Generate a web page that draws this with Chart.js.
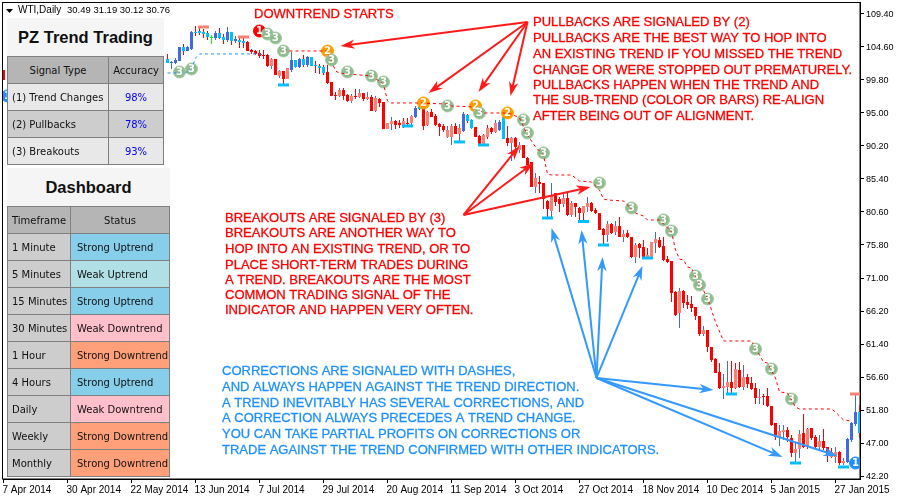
<!DOCTYPE html>
<html>
<head>
<meta charset="utf-8">
<script src="https://cdn.jsdelivr.net/npm/chart.js@4/dist/chart.umd.js"></script>
<style>
  body { margin: 0; background: #fff; }
  #wrap { position: relative; width: 900px; height: 500px; overflow: hidden; }
  #chart { position: absolute; left: 0; top: 0; }
  .title { position: absolute; background: #f5f5f5; text-align: center; font: bold 16.5px "Liberation Sans"; color: #111; }
  table { position: absolute; border-collapse: collapse; table-layout: fixed; font: 10px "DejaVu Sans"; color: #111; }
  td { border: 1px solid #808080; height: 26px; padding: 1px 0 0 4px; box-sizing: border-box; white-space: nowrap; overflow: hidden; }
  tr { height: 27px; }
  td.mid { text-align: center; padding: 1px 0 0 0; }
  tr.head td { background: #b5b5b5; }
</style>
</head>
<body>
<div id="wrap">
  <canvas id="chart" width="900" height="500"></canvas>
  <div class="title" style="left:7px;top:18px;width:157px;height:38px;line-height:38px">PZ Trend Trading</div>
  <table id="signalTable" style="left:7px;top:56px;width:156px"></table>
  <div class="title" style="left:7px;top:168px;width:163px;height:38px;line-height:38px">Dashboard</div>
  <table id="dashTable" style="left:7px;top:206px;width:162px"></table>
</div>
<script>
// bar 0 sits at the left edge, the rest start at bar 41 (bars between are behind the panels)
const opens = [101.26,
  102.86,102.28,102.28,102.57,104.60,104.02,104.31,106.79,106.93,106.79,
  106.64,106.06,105.91,106.64,106.06,105.62,106.79,105.48,105.62,105.48,
  105.33,104.17,104.02,103.73,103.44,103.44,101.84,102.86,100.39,101.11,
  99.95,101.26,102.71,101.69,102.86,101.99,103.15,101.99,101.84,101.69,
  100.97,99.51,97.62,97.48,98.35,97.62,96.75,97.48,97.33,97.91,
  97.04,97.33,95.29,97.04,96.60,92.68,93.40,93.84,93.55,93.26,
  93.55,93.55,94.42,95.88,95.73,93.26,95.15,94.57,93.40,93.11,
  91.51,91.51,93.11,91.95,92.39,94.71,93.99,92.97,91.66,90.49,
  91.51,92.82,92.24,92.53,94.42,91.37,90.64,91.37,89.62,90.35,
  88.45,87.87,84.24,84.96,84.82,82.20,80.75,83.36,82.49,81.76,
  82.64,80.16,81.91,81.18,80.45,81.33,81.91,80.89,80.45,78.13,
  77.25,78.85,77.69,78.56,76.96,77.55,76.96,74.05,75.95,75.51,
  74.05,74.05,76.09,76.53,75.65,73.76,73.47,68.96,65.91,69.11,
  67.51,67.22,66.78,65.47,62.85,63.44,60.96,59.22,57.33,55.00,
  55.15,55.87,55.00,57.62,55.15,56.60,55.73,55.00,53.55,53.84,
  53.84,52.38,49.91,47.87,48.60,48.89,47.73,45.55,46.13,48.45,
  46.42,49.18,47.87,46.42,47.29,46.42,44.96,44.96,45.69,44.09,
  44.24,47.44,49.76,51.51];
const closes = [99.80,
  102.28,102.42,102.71,104.60,104.02,104.60,106.79,106.64,106.64,106.49,
  106.06,105.91,106.64,105.91,105.62,106.79,105.48,105.77,105.33,105.19,
  104.02,103.88,103.59,103.29,103.29,101.84,102.86,100.53,101.11,99.95,
  101.55,102.71,101.69,102.86,101.99,103.15,101.84,101.84,101.55,100.82,
  99.37,97.48,97.48,98.35,97.48,96.75,97.48,97.33,97.91,97.04,
  97.33,95.29,97.19,96.46,92.68,93.55,93.84,93.26,93.26,93.84,
  93.40,94.57,95.73,95.59,93.11,95.15,94.42,93.26,92.97,92.53,
  92.53,93.11,91.95,92.82,94.86,93.84,92.82,91.51,90.49,91.80,
  92.82,92.24,93.55,93.69,91.22,90.64,91.37,90.06,90.35,88.45,
  87.44,84.24,85.55,84.67,82.49,81.04,82.93,82.06,81.76,82.64,
  80.16,81.91,81.33,80.45,81.47,81.91,80.75,80.45,77.98,77.25,
  78.85,77.55,78.56,76.96,77.40,76.96,74.05,75.80,75.36,74.05,
  74.35,76.24,76.67,75.51,73.62,73.33,68.82,65.62,69.11,67.36,
  67.07,66.64,65.47,62.85,63.44,60.96,59.07,57.18,55.00,55.29,
  55.87,55.00,57.76,55.15,56.60,55.58,54.85,53.55,53.69,53.69,
  52.38,49.62,47.87,48.75,48.89,47.87,45.55,46.13,48.31,46.42,
  49.04,47.73,46.42,47.29,46.27,45.25,45.69,45.69,44.09,44.38,
  47.58,49.91,51.51,48.45];
const highs = [101.26,
  103.59,102.57,103.00,104.60,105.04,104.75,106.93,107.66,107.51,107.22,
  106.93,106.35,106.93,107.37,106.49,107.51,106.79,106.20,106.20,106.06,
  105.48,104.31,104.17,104.17,104.17,103.59,103.00,102.86,101.26,101.11,
  101.55,103.88,102.71,103.00,103.44,103.29,103.15,102.57,102.13,101.99,
  101.99,99.51,98.06,98.64,98.64,97.77,97.77,98.49,98.49,97.91,
  98.06,97.62,97.48,97.19,96.60,93.55,94.42,93.99,93.99,94.28,
  94.28,94.71,96.02,96.02,95.73,95.29,95.59,94.86,93.55,93.40,
  93.11,93.40,93.55,93.40,95.15,94.86,94.13,92.97,91.80,91.95,
  93.26,92.97,93.99,93.99,94.42,93.11,91.51,91.51,90.79,90.35,
  88.60,87.87,86.27,85.84,84.82,82.35,84.82,83.36,82.78,83.36,
  83.36,82.20,81.91,81.33,81.47,82.78,82.06,81.18,80.45,78.27,
  79.29,79.00,79.29,79.87,77.98,77.98,76.96,76.09,76.09,76.53,
  75.36,76.24,77.69,76.96,76.96,74.20,73.47,69.11,69.55,69.25,
  68.53,68.38,66.78,65.47,64.02,63.44,60.96,59.36,58.64,57.04,
  58.93,58.93,58.64,58.78,58.35,57.04,56.60,55.73,54.85,54.13,
  55.00,52.38,49.91,49.62,49.62,49.33,48.16,47.00,48.89,51.22,
  49.18,49.18,48.16,48.16,49.04,46.42,46.27,46.42,45.84,44.82,
  47.73,50.05,54.13,52.53];
const lows = [99.80,
  102.28,101.40,102.13,102.57,103.44,104.02,104.17,106.20,106.35,105.91,
  105.62,105.04,105.62,105.77,105.04,105.33,104.89,105.19,104.46,104.46,
  104.02,103.59,103.44,103.00,102.86,101.69,101.40,100.53,100.09,98.93,
  99.95,100.97,101.55,101.55,101.69,101.69,101.84,100.82,100.68,100.53,
  99.22,97.48,96.89,97.33,96.89,96.60,96.46,97.04,97.19,96.75,
  96.89,95.29,95.15,95.88,92.68,92.68,92.53,92.68,92.82,92.82,
  93.11,93.26,94.28,95.44,92.53,93.11,94.42,93.11,91.66,92.24,
  91.37,90.35,91.95,90.79,92.24,93.55,92.68,91.51,90.20,90.20,
  91.22,91.95,92.09,92.39,91.22,90.20,88.02,89.33,89.19,88.45,
  87.44,84.24,83.36,83.36,81.04,79.73,79.73,81.47,80.60,81.33,
  80.02,79.87,79.87,79.29,79.29,80.60,80.60,80.31,77.98,75.80,
  76.24,77.40,77.25,76.96,76.24,76.82,73.91,73.18,73.91,73.91,
  73.91,73.91,74.64,75.36,73.47,73.18,67.51,65.47,63.73,66.64,
  66.49,66.05,64.89,62.56,62.56,60.24,58.78,57.18,54.85,53.40,
  54.27,54.13,54.85,55.00,54.71,55.00,54.71,52.67,52.67,52.53,
  52.24,49.47,47.44,46.56,47.44,47.15,44.96,44.24,44.82,46.27,
  46.13,47.44,46.27,45.98,45.98,44.24,44.82,44.09,43.80,43.80,
  44.09,47.15,49.47,47.73];
const bodyKinds = ("r" + "cbbbcbbccc" + "cgbccbcbcc" + "rrrrrrsrsr" + "sbcbcbcccc" + "rrrsrrsrsr" + "srsrrssrrs"
  + "rsbcrsrrrr" + "ssrsbccrrs" + "srsbcrsrsr" + "rrsrrrsrrs" + "rsrrssrrrr" + "srsrsrrsrr" + "sssrrrrrsr"
  + "rrrrsrrrrs" + "srsrsrrrsr" + "rrrssrrssr" + "srrsrrssrs" + "bbbc").split("");
const wickKinds = ("r" + "rbbbrbbrrr" + "rgbrrbrbrr" + "rrrrrrbrbr" + "rbcbrbcrrr" + "rrrbrrbrbr" + "brbrrrbrrr"
  + "rbbrrrrrrr" + "bbrbbrcrrr" + "rrbbcrbrbr" + "rrbrrrbrrb" + "rbrrrbrrrr" + "brbrbrrbrr" + "rrbrrrrrbr"
  + "rrrrbrrrrb" + "brrrbrrrbr" + "rrrbbrrbbr" + "rrrbrrrbrb" + "bbbr").split("");

const kindColors = { r: "#ff0000", s: "#fa8072", b: "#4169e1", c: "#00bfff", g: "#00ff00" };

// stop lines
const upStopBars = [41, 44, 46, 47, 48, 49, 64, 65];
const upStopPrices = [100.82, 100.82, 100.97, 101.40, 103.00, 103.59, 103.59, 103.44];
const downStopBars = [70, 81, 83, 84, 86, 92, 95, 96, 97, 103, 111, 112, 118, 120, 125, 127, 129, 131, 133, 135, 136, 137, 142, 144, 147, 149, 150, 151, 155, 158, 160, 161, 164, 167, 168, 169, 170, 171, 172, 173, 176, 178, 180, 187, 188, 190, 191, 193, 194, 196, 198, 199, 207, 208, 210, 212];
const downStopPrices = [104.02, 104.02, 101.11, 100.82, 100.68, 100.39, 99.22, 96.75, 96.46, 96.46, 96.31, 96.02, 95.88, 95.00, 95.00, 94.86, 94.28, 91.80, 90.06, 88.89, 86.13, 85.98, 85.98, 85.11, 84.96, 83.80, 82.49, 82.35, 82.20, 80.45, 80.02, 79.44, 79.44, 77.69, 75.08, 73.76, 73.62, 72.60, 72.46, 71.29, 68.09, 64.60, 61.84, 61.84, 60.82, 58.78, 58.64, 56.45, 54.42, 54.27, 52.24, 51.95, 51.95, 51.51, 50.35, 50.20];

// correction dashes
const lowDashBars = [70, 101, 114, 120, 136, 145, 150, 161, 182, 198, 210];
const lowDashPrices = [99.08, 93.11, 90.79, 90.35, 79.73, 79.22, 75.80, 73.91, 54.13, 44.09, 43.51];
const highDashBars = [50, 60, 213];
const highDashPrices = [107.51, 106.06, 54.13];

// numbered signals
const breakoutBars = [44, 47, 66, 68, 70, 82, 86, 92, 95, 111, 119, 130, 131, 135, 149, 157, 165, 167, 173, 174, 176, 188, 192, 197];
const breakoutPrices = [100.97, 101.40, 106.49, 105.91, 104.02, 102.71, 100.97, 100.39, 99.51, 96.02, 95.00, 93.99, 92.09, 89.19, 84.82, 81.18, 79.44, 77.84, 71.29, 69.98, 67.95, 60.67, 57.76, 53.40];
const pullbackBars = [81, 105, 118, 126];
const pullbackPrices = [104.02, 96.46, 96.02, 95.00];
const changeDownBars = [64];
const changeDownPrices = [106.93];
const changeUpBars = [1, 213];
const changeUpPrices = [97.48, 44.09];

const priceTicks = [109.40, 104.60, 99.80, 95.00, 90.20, 85.40, 80.60, 75.80, 71.00, 66.20, 61.40, 56.60, 51.80, 47.00, 42.20];
const dateTickBars = [0, 16, 32, 48, 64, 80, 96, 112, 128, 144, 160, 176, 192, 208];
const dateTickLabels = ["7 Apr 2014", "30 Apr 2014", "22 May 2014", "13 Jun 2014", "7 Jul 2014", "29 Jul 2014", "20 Aug 2014", "11 Sep 2014", "3 Oct 2014", "27 Oct 2014", "18 Nov 2014", "10 Dec 2014", "5 Jan 2015", "27 Jan 2015"];

// arrows, in bar / price
const redArrows = [
  [131, 108.24, 84.25, 104.75], [131, 108.24, 106.25, 97.91], [131, 108.24, 118.75, 98.06], [131, 108.24, 126.75, 97.48],
  [115, 80.17, 129, 90.20], [115, 80.17, 132.5, 87.73], [115, 80.17, 146.75, 84.24]
];
const blueArrows = [
  [148.25, 56.46, 137, 78.28], [148.25, 56.46, 144.5, 77.99], [148.25, 56.46, 149.75, 74.06], [148.25, 56.46, 159.75, 72.75],
  [148.25, 56.46, 177.5, 54.71], [148.25, 56.46, 194.75, 44.97], [148.25, 56.46, 208.5, 45.11]
];

const notes = [
  { color: "#ff0000", x: 254, ys: [14], lines: ["DOWNTREND STARTS"] },
  { color: "#ff0000", x: 533, ys: [22, 38, 54, 70, 85, 100, 116], lines: [
    "PULLBACKS ARE SIGNALED BY (2)",
    "PULLBACKS ARE THE BEST WAY TO HOP INTO",
    "AN EXISTING TREND IF YOU MISSED THE TREND",
    "CHANGE OR WERE STOPPED OUT PREMATURELY.",
    "PULLBACKS HAPPEN WHEN THE TREND AND",
    "THE SUB-TREND (COLOR OR BARS) RE-ALIGN",
    "AFTER BEING OUT OF ALIGNMENT."] },
  { color: "#ff0000", x: 225, ys: [218, 233, 249, 265, 280, 295, 310], lines: [
    "BREAKOUTS ARE SIGNALED BY (3)",
    "BREAKOUTS ARE ANOTHER WAY TO",
    "HOP INTO AN EXISTING TREND, OR TO",
    "PLACE SHORT-TERM TRADES DURING",
    "A TREND. BREAKOUTS ARE THE MOST",
    "COMMON TRADING SIGNAL OF THE",
    "INDICATOR AND HAPPEN VERY OFTEN."] },
  { color: "#1e90ff", x: 222, ys: [371, 387, 403, 418, 434, 450], lines: [
    "CORRECTIONS ARE SIGNALED WITH DASHES,",
    "AND ALWAYS HAPPEN AGAINST THE TREND DIRECTION.",
    "A TREND INEVITABLY HAS SEVERAL CORRECTIONS, AND",
    "A CORRECTION ALWAYS PRECEDES A TREND CHANGE.",
    "YOU CAN TAKE PARTIAL PROFITS ON CORRECTIONS OR",
    "TRADE AGAINST THE TREND CONFIRMED WITH OTHER INDICATORS."] }
];

const signalHeader = ["Signal Type", "Accuracy"];
const signalNames = ["(1) Trend Changes", "(2) Pullbacks", "(3) Breakouts"];
const signalAccuracy = ["98%", "78%", "93%"];
const dashHeader = ["Timeframe", "Status"];
const timeframes = ["1 Minute", "5 Minutes", "15 Minutes", "30 Minutes", "1 Hour", "4 Hours", "Daily", "Weekly", "Monthly"];
const statuses = ["Strong Uptrend", "Weak Uptrend", "Strong Uptrend", "Weak Downtrend", "Strong Downtrend", "Strong Uptrend", "Weak Downtrend", "Strong Downtrend", "Strong Downtrend"];
const statusColors = { "Strong Uptrend": "#87ceeb", "Weak Uptrend": "#b0e0e6", "Weak Downtrend": "#ffc0cb", "Strong Downtrend": "#ffa07a" };

function barOf(n) { return n === 0 ? 0 : 40 + n; }
function points(bars, prices) { return bars.map((b, i) => ({ x: b, y: prices[i] })); }

function buildTables() {
  var html = '<col style="width:101px"><col style="width:55px">';
  html += '<tr class="head"><td class="mid">' + signalHeader[0] + '</td><td class="mid">' + signalHeader[1] + '</td></tr>';
  signalNames.forEach((name, i) => {
    var bg = i % 2 ? "#cdcdcd" : "#e8e8e8";
    html += '<tr style="background:' + bg + '"><td>' + name + '</td><td class="mid" style="color:#0000ff">' + signalAccuracy[i] + '</td></tr>';
  });
  document.getElementById("signalTable").innerHTML = html;

  html = '<col style="width:63px"><col style="width:99px">';
  html += '<tr class="head"><td class="mid">' + dashHeader[0] + '</td><td class="mid">' + dashHeader[1] + '</td></tr>';
  timeframes.forEach((name, i) => {
    html += '<tr><td style="background:#cdcdcd">' + name + '</td><td style="background:' + statusColors[statuses[i]] + ';padding-left:6px">' + statuses[i] + '</td></tr>';
  });
  document.getElementById("dashTable").innerHTML = html;
}
buildTables();

function drawArrow(ctx, x0, y0, x1, y1, color) {
  var a = Math.atan2(y1 - y0, x1 - x0);
  ctx.strokeStyle = color;
  ctx.fillStyle = color;
  ctx.lineWidth = 2;
  ctx.beginPath();
  ctx.moveTo(x0, y0);
  ctx.lineTo(x1 - 8 * Math.cos(a), y1 - 8 * Math.sin(a));
  ctx.stroke();
  ctx.beginPath();
  ctx.moveTo(x1, y1);
  ctx.lineTo(x1 - 15 * Math.cos(a - 0.32), y1 - 15 * Math.sin(a - 0.32));
  ctx.lineTo(x1 - 10 * Math.cos(a), y1 - 10 * Math.sin(a));
  ctx.lineTo(x1 - 15 * Math.cos(a + 0.32), y1 - 15 * Math.sin(a + 0.32));
  ctx.closePath();
  ctx.fill();
}

const framePlugin = {
  id: "frame",
  beforeDraw(chart) {
    var ctx = chart.ctx, area = chart.chartArea;
    ctx.save();
    ctx.fillStyle = "#fff";
    ctx.fillRect(0, 0, chart.width, chart.height);
    ctx.strokeStyle = "#000";
    ctx.lineWidth = 1;
    ctx.strokeRect(2.5, 2.5, area.right - 2.5, area.bottom - 2.5);
    ctx.restore();
  }
};

const digitsPlugin = {
  id: "digits",
  afterDatasetsDraw(chart) {
    var ctx = chart.ctx;
    ctx.save();
    ctx.beginPath();
    ctx.rect(chart.chartArea.left, chart.chartArea.top, chart.chartArea.width, chart.chartArea.height);
    ctx.clip();
    ctx.font = 'bold 10px "DejaVu Sans"';
    ctx.textAlign = "center";
    ctx.textBaseline = "middle";
    ctx.fillStyle = "#fff";
    chart.data.datasets.forEach((ds, i) => {
      if (!ds.digit) return;
      chart.getDatasetMeta(i).data.forEach(pt => ctx.fillText(ds.digit, pt.x, pt.y + 0.5));
    });
    ctx.restore();
  }
};

const notesPlugin = {
  id: "notes",
  afterDatasetsDraw(chart) {
    var ctx = chart.ctx, xs = chart.scales.x, ys = chart.scales.y;
    ctx.save();
    redArrows.forEach(a => drawArrow(ctx, xs.getPixelForValue(a[0]), ys.getPixelForValue(a[1]), xs.getPixelForValue(a[2]), ys.getPixelForValue(a[3]), "#ff1a1a"));
    blueArrows.forEach(a => drawArrow(ctx, xs.getPixelForValue(a[0]), ys.getPixelForValue(a[1]), xs.getPixelForValue(a[2]), ys.getPixelForValue(a[3]), "#3399ff"));
    ctx.font = '13px "Liberation Sans"';
    ctx.textBaseline = "middle";
    ctx.textAlign = "left";
    notes.forEach(n => {
      ctx.fillStyle = n.color;
      ctx.strokeStyle = n.color;
      ctx.lineWidth = 0.3;
      n.lines.forEach((t, i) => {
        ctx.fillText(t, n.x, n.ys[i]);
        ctx.strokeText(t, n.x, n.ys[i]);
      });
    });
    // chart header
    ctx.fillStyle = "#000";
    ctx.beginPath();
    ctx.moveTo(6, 9); ctx.lineTo(13, 9); ctx.lineTo(9.5, 13);
    ctx.closePath();
    ctx.fill();
    ctx.font = '10px "Liberation Sans"';
    ctx.fillText("WTI,Daily", 18, 10);
    ctx.font = '9.5px "Liberation Sans"';
    ctx.fillText("30.49 31.19 30.12 30.76", 67, 10);
    ctx.restore();
  }
};

new Chart(document.getElementById("chart"), {
  data: {
    datasets: [
      {
        type: "bar", order: 6, barThickness: 1, grouped: false, inflateAmount: 0,
        data: highs.map((h, n) => ({ x: barOf(n), y: [lows[n], h] })),
        backgroundColor: wickKinds.map(k => kindColors[k])
      },
      {
        type: "bar", order: 5, barThickness: 3, grouped: false, inflateAmount: 0,
        data: opens.map((o, n) => ({ x: barOf(n), y: [Math.min(o, closes[n]), Math.max(o, closes[n])] })),
        backgroundColor: bodyKinds.map(k => kindColors[k])
      },
      {
        type: "scatter", order: 3, data: points(lowDashBars, lowDashPrices),
        pointStyle: "line", pointRadius: 5.5, pointBorderWidth: 3, pointBorderColor: "#00bfff"
      },
      {
        type: "scatter", order: 3, data: points(highDashBars, highDashPrices),
        pointStyle: "line", pointRadius: 5.5, pointBorderWidth: 3, pointBorderColor: "#fa8072"
      },
      {
        type: "scatter", order: 2, digit: "3", data: points(breakoutBars, breakoutPrices),
        pointRadius: 6, pointBorderWidth: 1, pointBackgroundColor: "#8fbc8f", pointBorderColor: "#a5cba5"
      },
      {
        type: "scatter", order: 2, digit: "2", data: points(pullbackBars, pullbackPrices),
        pointRadius: 6, pointBorderWidth: 1, pointBackgroundColor: "#ff9a00", pointBorderColor: "#ffa500"
      },
      {
        type: "scatter", order: 2, digit: "1", data: points(changeDownBars, changeDownPrices),
        pointRadius: 6, pointBorderWidth: 1, pointBackgroundColor: "#ff0000", pointBorderColor: "#ff0000"
      },
      {
        type: "scatter", order: 2, digit: "1", data: points(changeUpBars, changeUpPrices),
        pointRadius: 6, pointBorderWidth: 1, pointBackgroundColor: "#1e90ff", pointBorderColor: "#1e90ff"
      },
      {
        type: "line", order: 1, data: points(upStopBars, upStopPrices),
        borderColor: "#1e90ff", borderWidth: 1, borderDash: [3, 3], pointRadius: 0, tension: 0
      },
      {
        type: "line", order: 1, data: points(downStopBars, downStopPrices),
        borderColor: "#ff0000", borderWidth: 1, borderDash: [3, 3], pointRadius: 0, tension: 0
      }
    ]
  },
  options: {
    responsive: false,
    animation: false,
    events: [],
    layout: { autoPadding: false, padding: { left: 3, top: 2, right: 0, bottom: 0 } },
    plugins: { legend: { display: false }, tooltip: { enabled: false } },
    scales: {
      x: {
        type: "linear", min: -0.125, max: 214.125, offset: false,
        afterFit: s => { s.height = 21; s.paddingLeft = 0; s.paddingRight = 0; },
        afterBuildTicks: s => { s.ticks = dateTickBars.map(v => ({ value: v })); },
        grid: { offset: false, drawOnChartArea: false, tickLength: 4, tickColor: "#000" },
        border: { color: "#000" },
        ticks: {
          autoSkip: false, maxRotation: 0, align: "start", padding: 1, labelOffset: -1, color: "#000",
          font: { family: "Liberation Sans", size: 10 },
          callback: v => dateTickLabels[dateTickBars.indexOf(v)]
        }
      },
      y: {
        position: "right", min: 41.764, max: 111.145,
        afterFit: s => { s.width = 40; s.paddingTop = 0; s.paddingBottom = 0; },
        afterBuildTicks: s => { s.ticks = priceTicks.map(v => ({ value: v })); },
        grid: { drawOnChartArea: false, tickLength: 4, tickColor: "#000" },
        border: { color: "#000" },
        ticks: {
          padding: 2, labelOffset: 1, color: "#000",
          font: { family: "Liberation Sans", size: 9 },
          callback: v => v.toFixed(2)
        }
      }
    }
  },
  plugins: [framePlugin, digitsPlugin, notesPlugin]
});
</script>
</body>
</html>
